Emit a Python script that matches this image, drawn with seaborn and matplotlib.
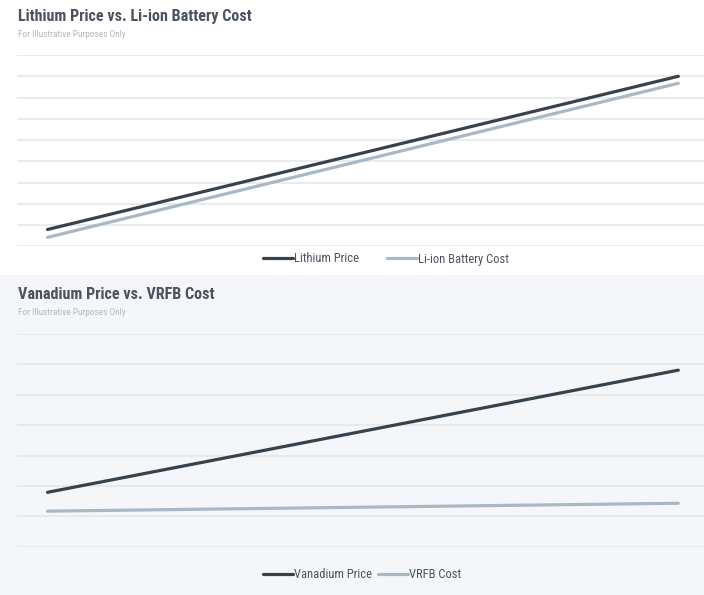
import matplotlib
matplotlib.use("Agg")
import matplotlib.pyplot as plt
from matplotlib import font_manager
from matplotlib.patches import Rectangle
import pandas as pd
import seaborn as sns

# ---- data (illustrative trend lines, arbitrary units) ----
periods = [0, 1]

lithium_price = [0.79, 8.0]
liion_cost = [0.42, 7.67]

vanadium_price = [1.79, 5.81]
vrfb_cost = [1.17, 1.43]

top_labels = ["Lithium Price", "Li-ion Battery Cost"]
bottom_labels = ["Vanadium Price", "VRFB Cost"]

top_title = "Lithium Price vs. Li-ion Battery Cost"
bottom_title = "Vanadium Price vs. VRFB Cost"
subtitle = "For Illustrative Purposes Only"

# ---- style ----
DARK = "#38424d"
LIGHT = "#a9b8c5"
GRID = "#e6e7e9"
TITLE_C = "#4b545e"
SUB_C = "#b3b8be"
PANEL_BG = "#f5f6f9"

sns.set_theme(style="white")

available = {f.name for f in font_manager.fontManager.ttflist}
narrow = [n for n in ["Roboto Condensed", "Liberation Sans Narrow",
                      "DejaVu Sans Condensed"] if n in available]
families = narrow + ["DejaVu Sans"]
plt.rcParams["font.family"] = families

W, H = 704, 595
fig = plt.figure(figsize=(W / 100, H / 100), dpi=100)
fig.patch.set_facecolor("white")
# shaded band behind the second chart
fig.patches.append(Rectangle((0, 0), 1, 1 - 275 / H, transform=fig.transFigure,
                             facecolor=PANEL_BG, edgecolor="none", zorder=-5))


def frame(df_long, top_px, bottom_px, ymax, palette, labels, leg_center, colspace):
    ax = fig.add_axes([17 / W, 1 - bottom_px / H, 687 / W, (bottom_px - top_px) / H])
    ax.set_facecolor("none")
    sns.lineplot(data=df_long, x="period", y="value", hue="series",
                 hue_order=labels, palette=palette, ax=ax, linewidth=2.3,
                 legend=False, solid_capstyle="round")
    ax.set_xlim(-0.0484, 1.0407)
    ax.set_ylim(0, ymax)
    ax.set_yticks(range(ymax + 1))
    ax.yaxis.grid(True, color=GRID, linewidth=1.2)
    ax.xaxis.grid(False)
    ax.set_axisbelow(True)
    ax.tick_params(left=False, bottom=False, labelleft=False, labelbottom=False)
    for s in ax.spines.values():
        s.set_visible(False)
    ax.set_xlabel("")
    ax.set_ylabel("")
    for ln in ax.get_lines():
        ln.set_clip_on(False)
    handles = [plt.Line2D([], [], color=palette[l], linewidth=2.3) for l in labels]
    fig.legend(handles, labels, loc="center",
               bbox_to_anchor=(leg_center[0] / W, 1 - leg_center[1] / H),
               ncol=2, frameon=False, fontsize=9, handlelength=2.4,
               handletextpad=0.1, columnspacing=colspace, labelcolor=TITLE_C)
    return ax


top_df = pd.DataFrame({
    "period": periods * 2,
    "value": lithium_price + liion_cost,
    "series": [top_labels[0]] * len(periods) + [top_labels[1]] * len(periods),
})
bottom_df = pd.DataFrame({
    "period": periods * 2,
    "value": vanadium_price + vrfb_cost,
    "series": [bottom_labels[0]] * len(periods) + [bottom_labels[1]] * len(periods),
})

frame(top_df, 55, 246.3, 9, {top_labels[0]: DARK, top_labels[1]: LIGHT},
      top_labels, (386, 259), 2.2)
frame(bottom_df, 334, 546.7, 7, {bottom_labels[0]: DARK, bottom_labels[1]: LIGHT},
      bottom_labels, (362, 575), 0.5)

for title, ty, sy in [(top_title, 21, 37), (bottom_title, 299, 315)]:
    fig.text(18 / W, 1 - ty / H, title, fontsize=11.6, fontweight="bold",
             color=TITLE_C, va="baseline", ha="left")
    fig.text(18 / W, 1 - sy / H, subtitle, fontsize=6.7, color=SUB_C,
             va="baseline", ha="left")

fig.savefig("out.png", dpi=100)
